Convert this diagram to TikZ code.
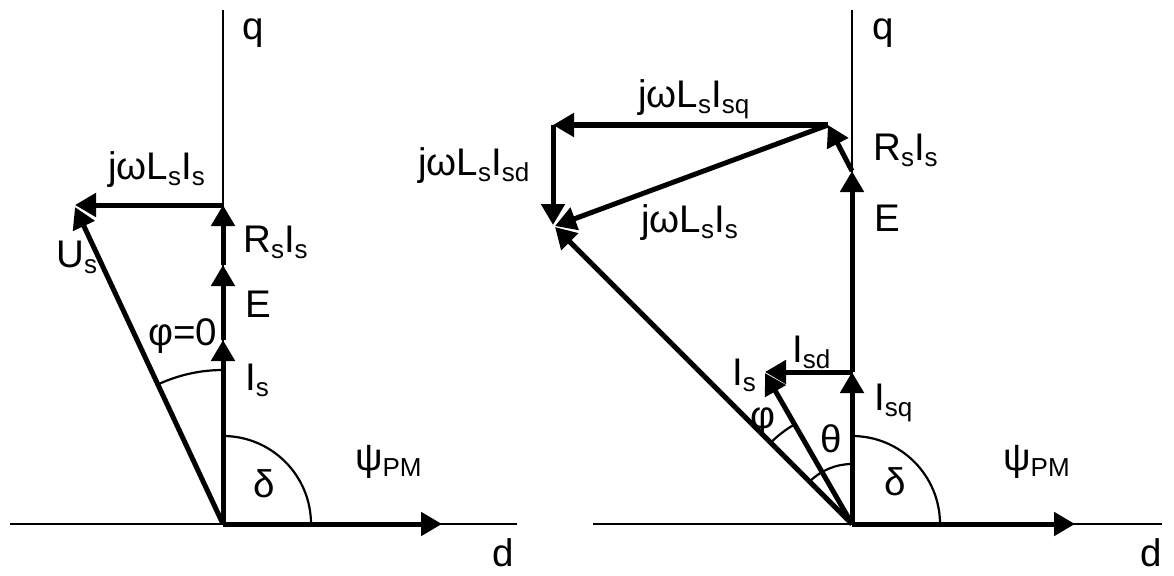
\documentclass[tikz,border=0pt]{standalone}
\usepackage{fontspec}
\setmainfont{Liberation Sans}
\usetikzlibrary{arrows.meta}
\newcommand{\sbs}[1]{\raisebox{-6pt}{\fontsize{26}{26}\selectfont #1}}
\begin{document}
\begin{tikzpicture}[x=1pt,y=-1pt,
  axis/.style={line width=2.3pt},
  vec/.style={line width=5pt, -{Triangle[length=21pt,width=23pt]}},
  ang/.style={line width=2.2pt},
  lbl/.style={anchor=base west, inner sep=0pt, font=\fontsize{38.5}{40}\selectfont}]
\useasboundingbox (0,0) rectangle (1174,575);
% ---------- left diagram ----------
\coordinate (O1) at (223,524);
\coordinate (Q1) at (223,10);
\coordinate (DL1) at (10,524);
\coordinate (DR1) at (517,524);
\coordinate (P1) at (442,524);
\coordinate (I1) at (223,340);
\coordinate (E1) at (223,265);
\coordinate (R1) at (223,205);
\coordinate (J1) at (75,205);
\coordinate (U1) at (75,207);
\draw[axis] (Q1) -- (O1);
\draw[axis] (DL1) -- (DR1);
\draw[vec] (O1) -- (P1);
\draw[vec] (O1) -- (I1);
\draw[vec] (I1) -- (E1);
\draw[vec] (E1) -- (R1);
\draw[vec] (R1) -- (J1);
\draw[vec] (O1) -- (U1);
\draw[ang] (O1) ++(-90:154) arc[start angle=-90, end angle=-115.03, radius=154];
\draw[ang] (O1) ++(-90:88) arc[start angle=-90, end angle=0, radius=88];
\node[lbl] (q1) at (242,40) {q};
\node[lbl] (d1) at (492,566) {d};
\node[lbl] (jw1) at (108,179) {jωL\sbs{s}I\sbs{s}};
\node[lbl] (rs1) at (243,252) {R\sbs{s}I\sbs{s}};
\node[lbl] (us1) at (56,267) {U\sbs{s}};
\node[lbl] (e1) at (245,317) {E};
\node[lbl] (phi1) at (148,345) {φ=0};
\node[lbl] (is1) at (245,390) {I\sbs{s}};
\node[lbl] (de1) at (253,497) {δ};
\node[lbl] (psi1) at (355,470) {ψ\sbs{PM}};
% ---------- right diagram ----------
\coordinate (O2) at (852,524);
\coordinate (Q2) at (852,10);
\coordinate (DL2) at (593,524);
\coordinate (DR2) at (1162,524);
\coordinate (P2) at (1075,524);
\coordinate (Iq) at (852,372);
\coordinate (Is) at (765,373);
\coordinate (Id) at (765,372);
\coordinate (E2) at (852,171);
\coordinate (R2) at (828,125);
\coordinate (Jq) at (553,125);
\coordinate (Jd) at (553,225);
\coordinate (Js) at (555,226);
\coordinate (U2) at (555,227);
\draw[axis] (Q2) -- (O2);
\draw[axis] (DL2) -- (DR2);
\draw[vec] (O2) -- (P2);
\draw[vec] (O2) -- (Iq);
\draw[vec] (Iq) -- (E2);
\draw[vec] (Iq) -- (Id);
\draw[vec] (O2) -- (Is);
\draw[vec] (E2) -- (R2);
\draw[vec] (R2) -- (Jq);
\draw[vec] (Jq) -- (Jd);
\draw[vec] (R2) -- (Js);
\draw[vec] (O2) -- (U2);
\draw[ang] (O2) ++(-135:115) arc[start angle=-135, end angle=-119.9, radius=115];
\draw[ang] (O2) ++(-135:60) arc[start angle=-135, end angle=-90, radius=60];
\draw[ang] (O2) ++(-90:88) arc[start angle=-90, end angle=0, radius=88];
\node[lbl] (q2) at (872,40) {q};
\node[lbl] (d2) at (1140,566) {d};
\node[lbl] (jwq) at (638,107) {jωL\sbs{s}I\sbs{sq}};
\node[lbl] (jwd) at (418,175) {jωL\sbs{s}I\sbs{sd}};
\node[lbl] (jws) at (641,232) {jωL\sbs{s}I\sbs{s}};
\node[lbl] (rs2) at (873,160) {R\sbs{s}I\sbs{s}};
\node[lbl] (e2) at (874,231) {E};
\node[lbl] (isd) at (792,362) {I\sbs{sd}};
\node[lbl] (is2) at (732,385) {I\sbs{s}};
\node[lbl] (isq) at (874,410) {I\sbs{sq}};
\node[lbl] (phi2) at (750,428) {φ};
\node[lbl] (th) at (820,452) {θ};
\node[lbl] (de2) at (884,495) {δ};
\node[lbl] (psi2) at (1003,470) {ψ\sbs{PM}};
\end{tikzpicture}
\end{document}
